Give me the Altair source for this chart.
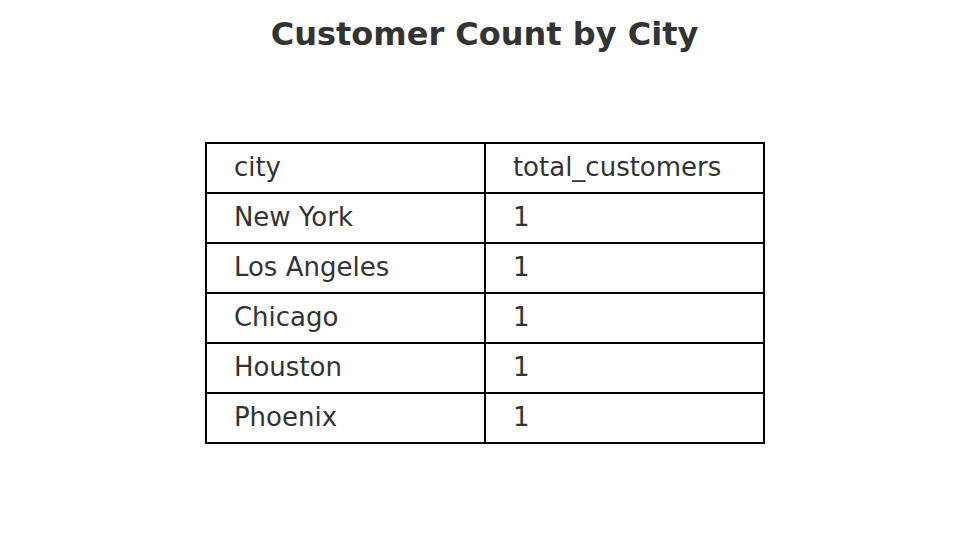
import altair as alt
import pandas as pd

title = "Customer Count by City"
columns = ["city", "total_customers"]
cities = ["New York", "Los Angeles", "Chicago", "Houston", "Phoenix"]
totals = [1, 1, 1, 1, 1]

rows = [columns] + [[c, str(t)] for c, t in zip(cities, totals)]
recs = []
for r, row in enumerate(rows):
    for c, val in enumerate(row):
        recs.append({"c": c, "c2": c + 1, "ct": c + 0.1, "r": r, "r2": r + 1, "rm": r + 0.5, "label": val})
df = pd.DataFrame(recs)

W, H = 953, 528
xs = alt.Scale(domain=[-198 / 279, (W - 198) / 279], nice=False, zero=False)
ys = alt.Scale(domain=[-135 / 50, (H - 135) / 50], nice=False, zero=False, reverse=True)

base = alt.Chart(df)
cells = base.mark_rect(fill="white", stroke="black", strokeWidth=2).encode(
    x=alt.X("c:Q", scale=xs, axis=None), x2="c2:Q",
    y=alt.Y("r:Q", scale=ys, axis=None), y2="r2:Q",
)
texts = base.mark_text(align="left", baseline="middle", fontSize=26, color="#333333",
                       font="DejaVu Sans").encode(
    x=alt.X("ct:Q", scale=xs, axis=None),
    y=alt.Y("rm:Q", scale=ys, axis=None),
    text="label:N",
)
ttl = alt.Chart(pd.DataFrame({"t": [title]})).mark_text(
    align="center", baseline="middle", fontSize=32, fontWeight="bold",
    color="#333333", font="DejaVu Sans").encode(
    x=alt.value(W / 2 + 8 - 8), y=alt.value(27), text="t:N")

chart = alt.layer(cells, texts, ttl).properties(
    width=W, height=H, padding=0, autosize=alt.AutoSizeParams(type="none")
).configure_view(stroke=None)

chart.save("out.html", embed_options={"renderer": "svg", "actions": False})
